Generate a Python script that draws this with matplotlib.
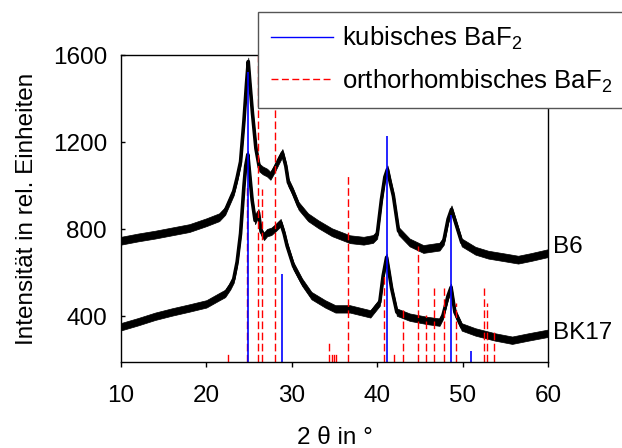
import numpy as np
import matplotlib.pyplot as plt
from matplotlib.lines import Line2D

plt.rcParams['font.family'] = ['Liberation Sans', 'DejaVu Sans']
plt.rcParams['mathtext.fontset'] = 'custom'
plt.rcParams['mathtext.rm'] = 'Liberation Sans'
plt.rcParams['mathtext.it'] = 'Liberation Sans'

# XRD pattern of sample B6 (2 theta in deg, intensity)
b6_x = [10, 12, 14, 16, 18, 20, 21.5, 22.2, 23.2, 23.6, 24.0, 24.4, 24.7, 24.9,
        25.1, 25.4, 25.8, 26.2, 26.6, 27.1, 27.5, 28.0, 28.5, 28.9, 29.3, 29.6,
        30.1, 30.8, 31.9, 33.1, 34.7, 36.8, 38.4, 39.5, 40.0, 40.5, 40.9, 41.2,
        41.5, 41.9, 42.5, 43.8, 45.4, 47.3, 47.8, 48.3, 48.7, 49.3, 49.9, 51.5,
        53.0, 55.0, 56.5, 58.0, 60.0]
b6_y = [747, 762, 775, 790, 805, 832, 855, 884, 974, 1037, 1110, 1300, 1470, 1570,
        1470, 1330, 1170, 1083, 1070, 1060, 1045, 1080, 1120, 1150, 1090, 1015,
        974, 907, 855, 823, 786, 754, 747, 755, 775, 937, 1040, 1075,
        1020, 952, 792, 739, 709, 720, 747, 846, 891, 815, 739, 701,
        683, 670, 660, 672, 690]
b6_noise = 18   # half width of the noise band

# sample BK17
bk_x = [10, 12, 14, 16, 18, 20, 21.5, 22.2, 22.8, 23.2, 23.6, 24.0, 24.4, 24.6,
        24.85, 25.1, 25.35, 25.7, 26.1, 26.4, 26.75, 27.1, 27.6, 28.1, 28.7, 29.1,
        29.45, 30.2, 31.2, 32.3, 33.9, 35.1, 36.8, 39.2, 40.3, 40.7, 41.1, 41.4,
        41.7, 42.3, 43.8, 45.8, 47.3, 47.7, 48.3, 48.65, 49.1, 49.9, 51.5, 53.8,
        55.8, 57.7, 60.0]
bk_y = [352, 375, 400, 420, 438, 457, 490, 505, 540, 571, 650, 780, 1000, 1090,
        1143, 1040, 935, 840, 876, 790, 767, 784, 790, 807, 830, 780,
        723, 631, 557, 495, 457, 434, 434, 411, 465, 587, 671, 600,
        526, 419, 396, 381, 373, 404, 495, 533, 419, 351, 328, 305,
        290, 305, 322]
bk_noise = 17

# reference reflections
cub_x = [24.9, 28.9, 41.2, 48.7, 51.0]
cub_h = [1520, 592, 1230, 867, 240]
ortho_x = [22.5, 24.8, 26.1, 26.55, 28.07, 34.4, 34.65, 34.9, 35.15, 36.62, 40.83,
           42.0, 43.06, 44.81, 45.75, 46.61, 47.86, 49.26, 52.54, 52.82, 53.71]
ortho_h = [226, 1000, 1600, 983, 1600, 279, 233, 233, 233, 1047, 590,
           229, 434, 721, 407, 529, 532, 462, 532, 462, 331]

ymin, ymax = 190, 1600
fs = 17.5

fig = plt.figure(figsize=(6.22, 4.48), dpi=100)
ax = fig.add_axes([121/622, 1 - 362/448, 427/622, 307/448])

for xs, ys, hw in [(b6_x, b6_y, b6_noise), (bk_x, bk_y, bk_noise)]:
    xs = np.array(xs)
    ys = np.array(ys)
    ax.fill_between(xs, ys - hw, ys + hw, color='black', lw=0.5)
    ax.plot(xs, ys, color='black', lw=2.6, solid_joinstyle='round')

ax.vlines(ortho_x, ymin, ortho_h, colors='red', linestyles=(0, (5.5, 2.5)), lw=1.0)
ax.vlines(cub_x, ymin, cub_h, colors='blue', lw=1.2)

ax.set_xlim(10, 60)
ax.set_ylim(ymin, ymax)
ax.set_xticks([10, 20, 30, 40, 50, 60])
ax.set_yticks([400, 800, 1200, 1600])
ax.tick_params(axis='x', direction='out', length=3.6, width=1, pad=13, labelsize=fs)
ax.tick_params(axis='y', direction='in', length=3, width=1, pad=10, labelsize=fs)
for s in ax.spines.values():
    s.set_linewidth(1)

ax.set_xlabel('2 θ in °', fontsize=fs, labelpad=14)
ax.set_ylabel('Intensität in rel. Einheiten', fontsize=fs, labelpad=11)

ax.text(60.6, 720, 'B6', fontsize=fs, va='center', ha='left', clip_on=False)
ax.text(60.6, 325, 'BK17', fontsize=fs, va='center', ha='left', clip_on=False)

handles = [Line2D([], [], color='blue', lw=1.0),
           Line2D([], [], color='red', lw=1.0, linestyle=(0, (5, 2.5)))]
leg = fig.legend(handles, ['kubisches BaF$_2$', 'orthorhombisches BaF$_2$'],
                 loc='upper left', bbox_to_anchor=(258/622, 1 - 12/448),
                 borderaxespad=0, fancybox=False, framealpha=1, edgecolor='#555555',
                 fontsize=18.5, handlelength=2.4, handletextpad=0.35,
                 borderpad=0.5, labelspacing=0.6)
leg.get_frame().set_linewidth(1.0)

fig.savefig('out.png', dpi=100)
